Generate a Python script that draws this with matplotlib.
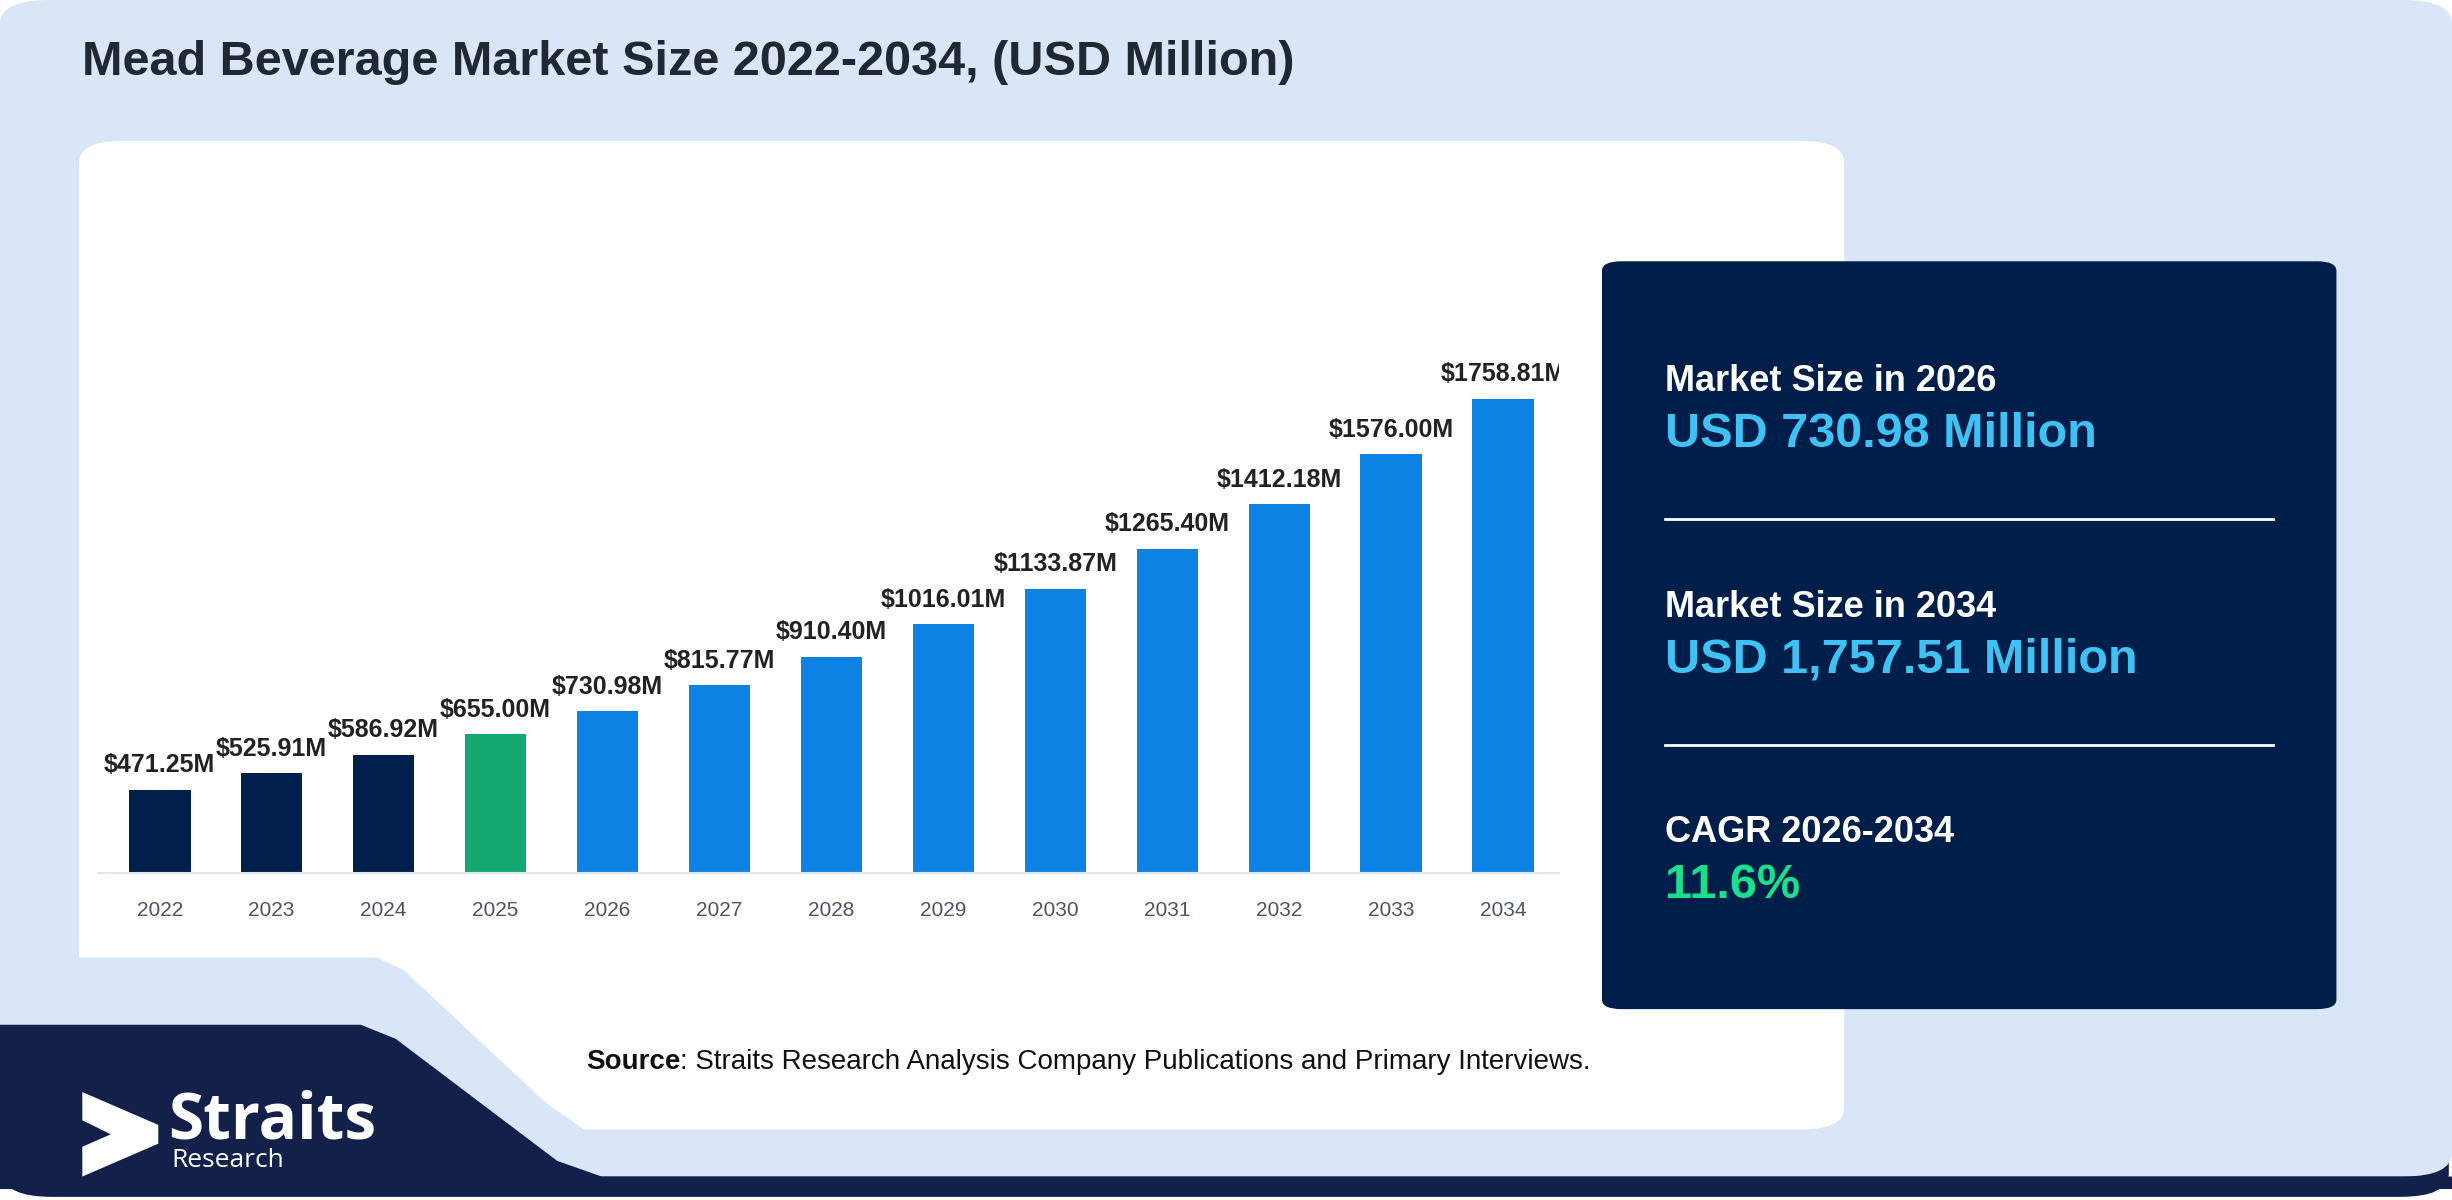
import numpy as np
import matplotlib
matplotlib.use("Agg")
import matplotlib.pyplot as plt
from matplotlib.patches import FancyBboxPatch, Polygon

plt.rcParams['font.family'] = ['Liberation Sans', 'DejaVu Sans']

years = ['2022', '2023', '2024', '2025', '2026', '2027', '2028',
         '2029', '2030', '2031', '2032', '2033', '2034']
values = [471.25, 525.91, 586.92, 655.00, 730.98, 815.77, 910.40,
          1016.01, 1133.87, 1265.40, 1412.18, 1576.00, 1758.81]
labels = ['$471.25M', '$525.91M', '$586.92M', '$655.00M', '$730.98M',
          '$815.77M', '$910.40M', '$1016.01M', '$1133.87M', '$1265.40M',
          '$1412.18M', '$1576.00M', '$1758.81M']
kind = ['hist'] * 3 + ['base'] + ['fcst'] * 9

title = 'Mead Beverage Market Size 2022-2034, (USD Million)'
stats = [('Market Size in 2026', 'USD 730.98 Million', '#3fc1f3'),
         ('Market Size in 2034', 'USD 1,757.51 Million', '#3fc1f3'),
         ('CAGR 2026-2034', '11.6%', '#19e08c')]

NAVY = '#001e4a'
BAND = '#12204a'
LIGHT = '#d9e6f8'
col = {'hist': '#001f4b', 'base': '#12a86f', 'fcst': '#0c83e2'}

W, H = 1549.0, 767.0   # layout measured on a 1549x767 view


def fx(x):
    return x / W


def fy(y):
    return 1 - y / H


fig = plt.figure(figsize=(24.52, 12.0), dpi=100, facecolor='white')

# background pieces
fig.patches.append(FancyBboxPatch((fx(2), fy(765)), fx(1545), 763 / H,
                                  boxstyle='round,pad=0,rounding_size=0.02',
                                  transform=fig.transFigure, fc=BAND, ec='none'))
fig.patches.append(FancyBboxPatch((fx(0), fy(752)), fx(1549), 752 / H,
                                  boxstyle='round,pad=0,rounding_size=0.02',
                                  transform=fig.transFigure, fc=LIGHT, ec='none'))
# white card
fig.patches.append(FancyBboxPatch((fx(50), fy(722)), fx(1115), 632 / H,
                                  boxstyle='round,pad=0,rounding_size=0.018',
                                  transform=fig.transFigure, fc='white', ec='none'))
cut = [(44, 612), (238, 612), (255, 620), (345, 705), (372, 724), (44, 724)]
fig.patches.append(Polygon([(fx(a), fy(b)) for a, b in cut], closed=True,
                           transform=fig.transFigure, fc=LIGHT, ec='none'))
band = [(0, 655), (228, 655), (250, 664), (352, 742), (380, 752),
        (1549, 752), (1549, 760), (0, 760)]
fig.patches.append(Polygon([(fx(a), fy(b)) for a, b in band], closed=True,
                           transform=fig.transFigure, fc=BAND, ec='none'))

fig.text(fx(52), fy(40), title, fontsize=35, fontweight='bold',
         color='#222831', va='center', ha='left')

# bar chart
ax = fig.add_axes([fx(62), fy(558), fx(985 - 62), (558 - 200) / H])
ax.set_zorder(5)
x = np.arange(len(years))
ax.bar(x, values, width=0.55, color=[col[k] for k in kind], zorder=2)
ax.set_ylim(198, 2041)
ax.set_xlim(-0.55, 12.5)
for i, v in enumerate(values):
    ax.annotate(labels[i], (x[i], v), xytext=(0, 9), textcoords='offset points',
                ha='center', va='bottom', fontsize=18, fontweight='bold',
                color='#222222', annotation_clip=False, clip_on=True)
ax.set_xticks(x)
ax.set_xticklabels(years, fontsize=15, color='#4a5568')
ax.tick_params(axis='x', length=0, pad=20)
ax.set_yticks([])
for s in ['top', 'left', 'right']:
    ax.spines[s].set_visible(False)
ax.spines['bottom'].set_color('#e3e6ea')
ax.spines['bottom'].set_linewidth(1.5)
ax.patch.set_alpha(0)

# stats panel
fig.patches.append(FancyBboxPatch((fx(1012), fy(645)), fx(464), (645 - 167) / H,
                                  boxstyle='round,pad=0,rounding_size=0.008',
                                  transform=fig.transFigure, fc=NAVY, ec='none'))
heads_y = [244, 388, 532]
for (head, val, c), hy in zip(stats, heads_y):
    fig.text(fx(1052), fy(hy), head, fontsize=26, fontweight='bold',
             color='white', va='center', ha='left')
    fig.text(fx(1052), fy(hy + 34), val, fontsize=35, fontweight='bold',
             color=c, va='center', ha='left')
for ly in [332, 476]:
    fig.add_artist(plt.Line2D([fx(1052), fx(1436)], [fy(ly), fy(ly)],
                              transform=fig.transFigure, color='white', lw=2))

# source line
r = fig.canvas.get_renderer()
src = fig.text(fx(370), fy(679), 'Source', fontsize=20, fontweight='bold',
               color='#111111', va='center', ha='left')
bb = src.get_window_extent(renderer=r).transformed(fig.transFigure.inverted())
fig.text(bb.x1, fy(679),
         ': Straits Research Analysis Company Publications and Primary Interviews.',
         fontsize=20, color='#111111', va='center', ha='left')

# logo
chev = [(52, 698), (100, 719), (100, 731), (52, 752), (52, 733), (70, 725), (52, 716)]
fig.patches.append(Polygon([(fx(a), fy(b)) for a, b in chev], closed=True,
                           transform=fig.transFigure, fc='white', ec='none'))
fig.text(fx(106), fy(717), 'Straits', fontsize=46, fontweight='bold',
         color='white', va='center', ha='left', family=['Open Sans', 'DejaVu Sans'])
fig.text(fx(108), fy(742), 'Research', fontsize=19, color='white',
         va='center', ha='left', family=['Open Sans', 'DejaVu Sans'])

fig.savefig('out.png', dpi=100, facecolor='white')
